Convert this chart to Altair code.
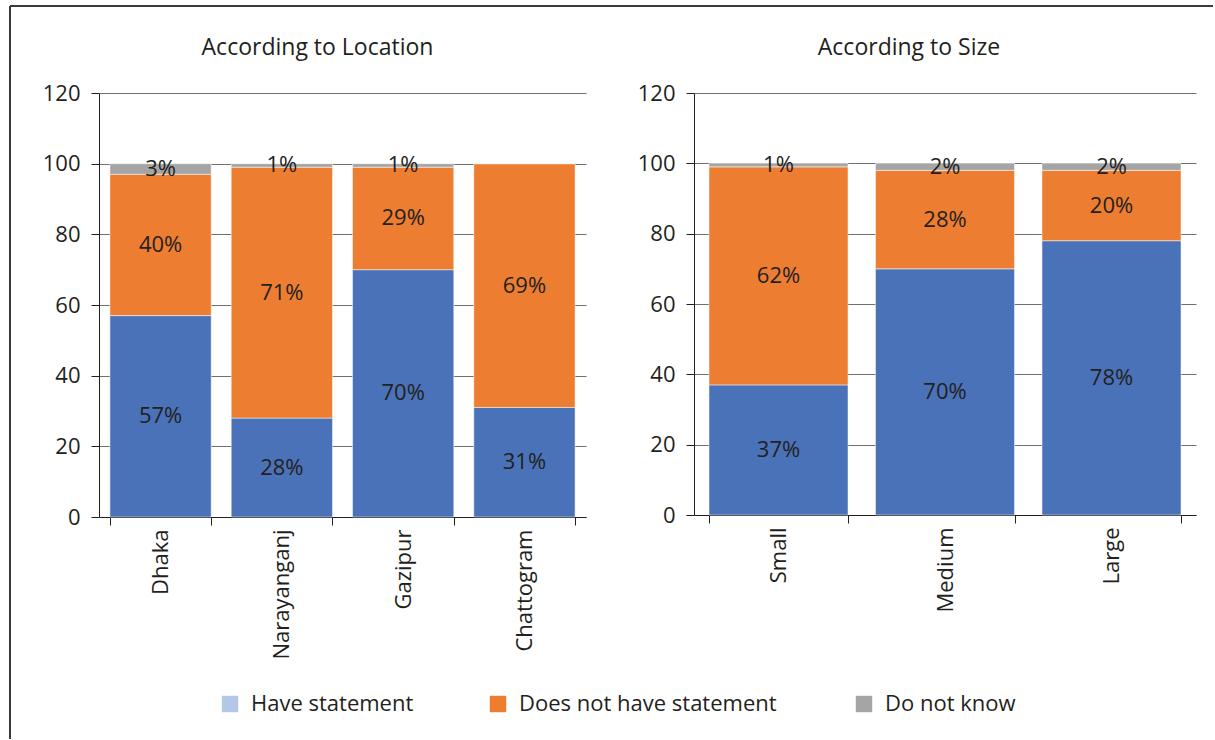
import json

import altair as alt
import pandas as pd

# Survey responses, in percent of firms
series = ["Have statement", "Does not have statement", "Do not know"]
bar_colors = ["#4a72b8", "#ed7d31", "#a5a5a5"]
key_colors = ["#b4c7e7", "#ed7d31", "#a5a5a5"]

locations = ["Dhaka", "Narayanganj", "Gazipur", "Chattogram"]
location_have = [57, 28, 70, 31]
location_not = [40, 71, 29, 69]
location_unknown = [3, 1, 1, 0]

sizes = ["Small", "Medium", "Large"]
size_have = [37, 70, 78]
size_not = [62, 28, 20]
size_unknown = [1, 2, 2]

y_ticks = [0, 20, 40, 60, 80, 100, 120]

FONT = "Open Sans"
INK = "#231f20"
FS = 22


def long_table(cats, *columns):
    rows = []
    for name, values in zip(series, columns):
        for cat, val in zip(cats, values):
            rows.append({"category": cat, "series": name, "value": val})
    return pd.DataFrame(rows)


location_df = long_table(locations, location_have, location_not, location_unknown)
size_df = long_table(sizes, size_have, size_not, size_unknown)

order_expr = f"indexof({json.dumps(series)}, datum.series)"


def panel(df, cats, width, height, title, dx):
    base = (
        alt.Chart(df)
        .transform_calculate(order=order_expr, label="datum.value + '%'")
        .transform_stack(
            stack="value",
            groupby=["category"],
            sort=[alt.SortField(field="order", order="ascending")],
            as_=["v0", "v1"],
        )
        .transform_calculate(mid="(datum.v0 + datum.v1) / 2")
    )

    x_axis = alt.Axis(
        labelAngle=-90,
        tickBand="extent",
        tickSize=8,
        tickColor=INK,
        domainColor=INK,
        labelPadding=4,
        labelFontSize=FS,
        labelColor=INK,
        labelFont=FONT,
        grid=False,
    )
    y_axis = alt.Axis(
        values=y_ticks,
        tickSize=8,
        tickColor=INK,
        domainColor=INK,
        gridColor="#707070",
        gridWidth=1,
        labelPadding=11,
        labelFontSize=FS,
        labelColor=INK,
        labelFont=FONT,
    )
    x_scale = alt.Scale(paddingInner=0.165, paddingOuter=0.09)
    y_scale = alt.Scale(domain=[0, 120], nice=False)

    bars = base.mark_bar(stroke="white", strokeWidth=0.5).encode(
        x=alt.X("category:N", sort=cats, scale=x_scale, axis=x_axis, title=None),
        y=alt.Y("v0:Q", scale=y_scale, axis=y_axis, title=None),
        y2="v1:Q",
        fill=alt.Fill(
            "series:N", scale=alt.Scale(domain=series, range=bar_colors), legend=None
        ),
    )
    labels = (
        base.transform_filter("datum.value > 0")
        .mark_text(fontSize=FS, color=INK, font=FONT)
        .encode(
            x=alt.X("category:N", sort=cats, title=None),
            y=alt.Y("mid:Q", title=None),
            text="label:N",
        )
    )

    return alt.layer(bars, labels).properties(
        width=width,
        height=height,
        title=alt.TitleParams(
            text=title,
            fontSize=23,
            font=FONT,
            color=INK,
            fontWeight="normal",
            anchor="middle",
            frame="group",
            dx=dx,
            offset=22,
        ),
    )


left = panel(location_df, locations, 487, 424, "According to Location", -25)
right = panel(size_df, sizes, 502, 422, "According to Size", -36)

panels = alt.hconcat(left, right, spacing=108, bounds="flush").resolve_scale(
    x="independent", y="independent", fill="shared"
)

# Outer frame: a line along the top and one down the left side
frame_data = alt.Data(values=[{}])
frame_top = alt.Chart(frame_data).mark_rule(color="#3a3a3a", strokeWidth=2).encode(
    x=alt.value(-89), x2=alt.value(1114), y=alt.value(-86)
)
frame_left = alt.Chart(frame_data).mark_rule(color="#3a3a3a", strokeWidth=2).encode(
    x=alt.value(-89), y=alt.value(-86), y2=alt.value(647)
)

# Key along the bottom: a swatch and a label for each series, each entry
# placed by its slot through a piecewise linear scale
key_data = alt.Data(values=[{"series": s} for s in series])
key_base = alt.Chart(key_data).transform_calculate(slot=order_expr)
key_x = alt.X(
    "slot:Q",
    scale=alt.Scale(domain=[0, 1, 2], range=[131, 399, 765]),
    axis=None,
)
key_swatches = key_base.mark_square(size=270, opacity=1).encode(
    x=key_x,
    y=alt.value(612),
    color=alt.Color(
        "series:N", scale=alt.Scale(domain=series, range=key_colors), legend=None
    ),
)
key_labels = key_base.mark_text(
    align="left", baseline="middle", dx=21, fontSize=FS, font=FONT, color=INK
).encode(x=key_x, y=alt.value(612), text="series:N")

frame = alt.layer(frame_top, frame_left, key_swatches, key_labels).properties(
    width=1, height=1
)

chart = (
    alt.vconcat(frame, panels, spacing=0, bounds="flush")
    .resolve_scale(color="independent", fill="independent")
    .properties(padding={"left": 8, "top": 4, "right": 0, "bottom": 0}, background="white")
    .configure(font=FONT)
    .configure_view(stroke="transparent")
)

chart.save("out.html", embed_options={"renderer": "svg", "actions": False})
